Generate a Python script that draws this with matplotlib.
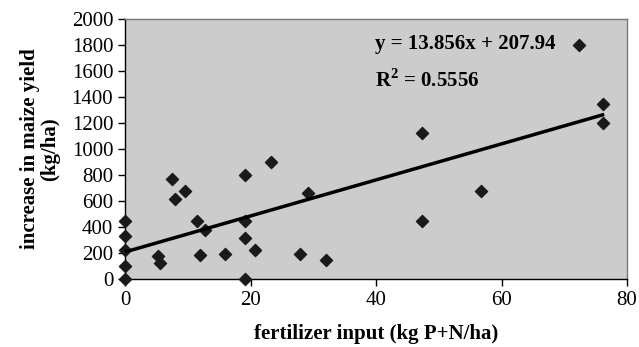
import matplotlib
matplotlib.use("Agg")
import matplotlib.pyplot as plt
import numpy as np

# data
fert_input = [0, 0, 0, 0, 0, 5.3, 5.5, 7.5, 7.9, 9.6, 11.5, 11.9, 12.8, 15.9,
              19.1, 19.1, 19.1, 19.1, 20.7, 23.2, 27.9, 29.1, 32.1,
              47.3, 47.3, 56.8, 72.3, 76.1, 76.1]
yield_increase = [0, 100, 220, 330, 445, 175, 120, 773, 616, 678, 447, 182, 375, 195,
                  803, 444, 318, 0, 223, 898, 195, 662, 146,
                  1120, 444, 675, 1800, 1343, 1197]
slope = 13.856
intercept = 207.94
r_squared = 0.5556
x_ticks = [0, 20, 40, 60, 80]
y_ticks = list(range(0, 2001, 200))

plt.rcParams['font.family'] = ['Liberation Serif', 'DejaVu Serif']
plt.rcParams['mathtext.fontset'] = 'custom'
plt.rcParams['mathtext.rm'] = 'Liberation Serif'
plt.rcParams['mathtext.bf'] = 'Liberation Serif:bold'

fig = plt.figure(figsize=(6.39, 3.47), dpi=100)
ax = fig.add_axes([125/639, 1 - 279/347, (627 - 125)/639, (279 - 19)/347])
ax.set_facecolor('#cccccc')

ax.scatter(fert_input, yield_increase, marker='D', s=38, color='#1a1a1a', zorder=3,
           clip_on=False)
xl = np.array([0, max(fert_input)])
ax.plot(xl, slope * xl + intercept, color='black', lw=2.5, zorder=4)

ax.set_xlim(0, 80)
ax.set_ylim(0, 2000)
ax.set_xticks(x_ticks)
ax.set_yticks(y_ticks)
ax.tick_params(direction='out', length=5, width=1, labelsize=15, color='black')
for s in ['top', 'right']:
    ax.spines[s].set_color('#777777')
    ax.spines[s].set_linewidth(1)
for s in ['left', 'bottom']:
    ax.spines[s].set_color('black')
    ax.spines[s].set_linewidth(1)

ax.set_xlabel('fertilizer input (kg P+N/ha)', fontsize=15, fontweight='bold', labelpad=10)
ax.set_ylabel('increase in maize yield\n(kg/ha)', fontsize=15, fontweight='bold',
              labelpad=8, linespacing=1.0)

fig.text(375/639, 1 - 44/347, f'y = {slope}x + {intercept}', fontsize=15,
         fontweight='bold', va='center', ha='left')
fig.text(375/639, 1 - 80/347, r'R$^{\mathbf{2}}$' + f' = {r_squared}', fontsize=15,
         fontweight='bold', va='center', ha='left')

fig.savefig('out.png', dpi=100)
